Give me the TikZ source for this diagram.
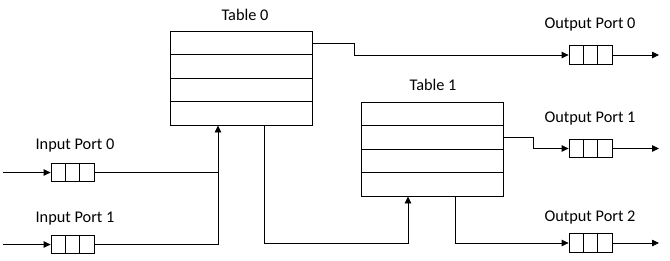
\documentclass[tikz,border=0pt]{standalone}
\usepackage{fontspec}
\setmainfont{Carlito}
\usetikzlibrary{arrows.meta,calc}
\tikzset{
  tablebox/.style={draw, line width=0.9pt, minimum width=142pt, minimum height=94pt, inner sep=0pt},
  queuebox/.style={draw, line width=0.8pt, minimum width=43pt, minimum height=18.5pt, inner sep=0pt},
  lbl/.style={font=\fontsize{16.3pt}{19pt}\selectfont, inner sep=0pt},
  conn/.style={line width=0.8pt},
  arr/.style={line width=0.8pt, -{Triangle[length=7pt,width=6.5pt]}},
}
\newcommand{\tablerows}[1]{%
  \foreach \k in {1,2,3} {
    \draw[line width=0.8pt] ($(#1.north west)!\k/4!(#1.south west)$) -- ($(#1.north east)!\k/4!(#1.south east)$);
  }}
\newcommand{\queuecells}[1]{%
  \foreach \k in {1,2} {
    \draw[line width=0.8pt] ($(#1.north west)!\k/3!(#1.north east)$) -- ($(#1.south west)!\k/3!(#1.south east)$);
  }}
\begin{document}
\begin{tikzpicture}[x=1pt, y=-1pt]
\useasboundingbox (0,0) rectangle (670,260);
% tables
\node[tablebox] (t0) at (241,78) {};
\node[tablebox] (t1) at (432.5,149) {};
\tablerows{t0}
\tablerows{t1}
\node[lbl] (t0l) at (245,15) {Table 0};
\node[lbl] (t1l) at (433,85) {Table 1};
% input queues
\node[queuebox] (iq0) at (72.5,172.5) {};
\node[queuebox] (iq1) at (72.5,244.5) {};
\queuecells{iq0}
\queuecells{iq1}
\node[lbl] (iq0l) at (75,146) {Input Port 0};
\node[lbl] (iq1l) at (75,219) {Input Port 1};
% output queues
\node[queuebox] (oq0) at (590.5,55) {};
\node[queuebox] (oq1) at (590.5,148.5) {};
\node[queuebox] (oq2) at (590.5,243) {};
\queuecells{oq0}
\queuecells{oq1}
\queuecells{oq2}
\node[lbl] (oq0l) at (590,25) {Output Port 0};
\node[lbl] (oq1l) at (590,119) {Output Port 1};
\node[lbl] (oq2l) at (590,218) {Output Port 2};
% free ends
\coordinate (in0) at (3,172.5);
\coordinate (in1) at (3,244.5);
\coordinate (out0) at (659,55);
\coordinate (out1) at (659,148.5);
\coordinate (out2) at (659,243);
% input connectors
\draw[arr] (in0) -- (iq0.west);
\draw[arr] (in1) -- (iq1.west);
\draw[conn] (iq0.east) -- (218,172.5);
\draw[arr] (iq1.east) -| (t0.south -| 218,0);
% table 0 outputs
\draw[arr] (t0.east |- 0,43) -- (354,43) -- (354,55) -- (oq0.west);
\draw[arr] (t0.south -| 264,0) -- (264,243) -- (408,243) -- (t1.south -| 408,0);
% table 1 outputs
\draw[arr] (t1.east |- 0,137) -- (533,137) -- (533,148.5) -- (oq1.west);
\draw[arr] (t1.south -| 455,0) -- (455,243) -- (oq2.west);
% outputs
\draw[arr] (oq0.east) -- (out0);
\draw[arr] (oq1.east) -- (out1);
\draw[arr] (oq2.east) -- (out2);
\end{tikzpicture}
\end{document}
